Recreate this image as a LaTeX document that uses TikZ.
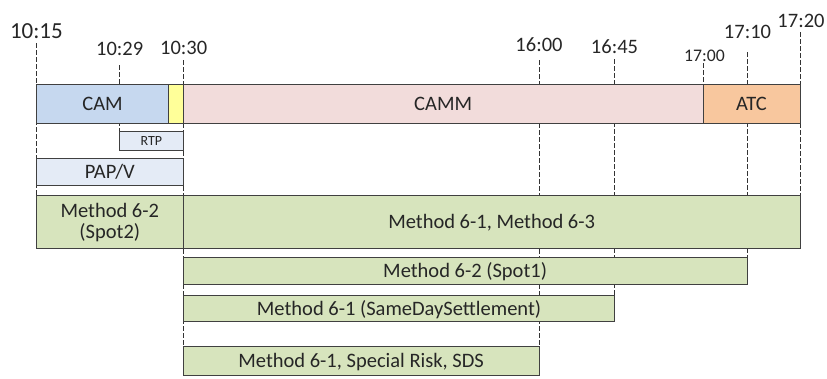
\documentclass[tikz,border=0pt]{standalone}
\usepackage{fontspec}
\setmainfont{Carlito}
\definecolor{camc}{HTML}{C6D8EF}
\definecolor{yelc}{HTML}{FFFF99}
\definecolor{cammc}{HTML}{F2DCDB}
\definecolor{atcc}{HTML}{F8C79E}
\definecolor{ltbl}{HTML}{E4EBF6}
\definecolor{grn}{HTML}{D7E4BD}
\definecolor{bord}{HTML}{404040}
\definecolor{txt}{HTML}{262626}
\definecolor{dashc}{HTML}{333333}
\tikzset{
  bar/.style={draw=bord, line width=0.9pt, inner sep=0pt, outer sep=0pt, anchor=north west, text=txt, font=\fontsize{20.5}{21}\selectfont, align=center, text height=13pt, text depth=0pt},
  tlab/.style={anchor=base, inner sep=0pt, text=txt, font=\fontsize{20.5}{21}\selectfont},
  tline/.style={draw=dashc, line width=0.8pt, dash pattern=on 4.5pt off 2.5pt}
}
\begin{document}
\begin{tikzpicture}[x=1pt,y=-1pt]
\useasboundingbox (0,0) rectangle (827,378);
% time labels
\node[tlab, font=\fontsize{23}{23}\selectfont] (l1015) at (36.4,38.3) {10:15};
\node[tlab] (l1029) at (119.7,55.7) {10:29};
\node[tlab] (l1030) at (183.7,54) {10:30};
\node[tlab] (l1600) at (539,51.7) {16:00};
\node[tlab] (l1645) at (614.5,53.3) {16:45};
\node[tlab, font=\fontsize{17.7}{18}\selectfont] (l1700) at (704.5,61.7) {17:00};
\node[tlab] (l1710) at (747.5,38.3) {17:10};
\node[tlab] (l1720) at (801,27.3) {17:20};
% dashed time lines (behind bars)
\coordinate (a1) at (36.3,43);   \coordinate (b1) at (36.3,195);
\coordinate (a2) at (119.3,65);  \coordinate (b2) at (119.3,131);
\coordinate (a3) at (183.3,60);  \coordinate (b3) at (183.3,346.7);
\coordinate (a4) at (539,60);    \coordinate (b4) at (539,346.7);
\coordinate (a5) at (614.8,59);  \coordinate (b5) at (614.8,295.7);
\coordinate (a6) at (703,63);    \coordinate (b6) at (703,84.7);
\coordinate (a7) at (747,52);    \coordinate (b7) at (747,257.7);
\coordinate (a8) at (800,32);    \coordinate (b8) at (800,195);
\foreach \i in {1,...,8} \draw[tline] (a\i) -- (b\i);
% top row
\node[bar, fill=camc, minimum width=132.4pt, minimum height=38.3pt] (cam) at (36.3,84.7) {CAM};
\node[bar, fill=yelc, minimum width=14.6pt, minimum height=38.3pt] (yel) at (168.7,84.7) {};
\node[bar, fill=cammc, minimum width=519.7pt, minimum height=38.3pt] (camm) at (183.3,84.7) {CAMM};
\node[bar, fill=atcc, minimum width=97pt, minimum height=38.3pt] (atc) at (703,84.7) {ATC};
% RTP and PAP/V
\node[bar, fill=ltbl, font=\fontsize{14}{14}\selectfont, text height=9pt, minimum width=64pt, minimum height=19pt] (rtp) at (119.3,131) {RTP};
\node[bar, fill=ltbl, minimum width=147pt, minimum height=26.3pt] (pap) at (36.3,158.7) {PAP/V};
% methods
\node[bar, fill=grn, text height=34pt, minimum width=147pt, minimum height=53pt] (m62s2) at (36.3,195) {Method 6-2\\(Spot2)};
\node[bar, fill=grn, minimum width=616.7pt, minimum height=53pt] (m613) at (183.3,195) {Method 6-1, Method 6-3};
\node[bar, fill=grn, minimum width=563.7pt, minimum height=26.3pt] (m62s1) at (183.3,257.7) {Method 6-2 (Spot1)};
\node[bar, fill=grn, minimum width=431.5pt, minimum height=26pt] (m61sd) at (183.3,295.7) {Method 6-1 (SameDaySettlement)};
\node[bar, fill=grn, minimum width=355.7pt, minimum height=28.3pt] (m61sr) at (183.3,346.7) {Method 6-1, Special Risk, SDS};
\end{tikzpicture}
\end{document}
